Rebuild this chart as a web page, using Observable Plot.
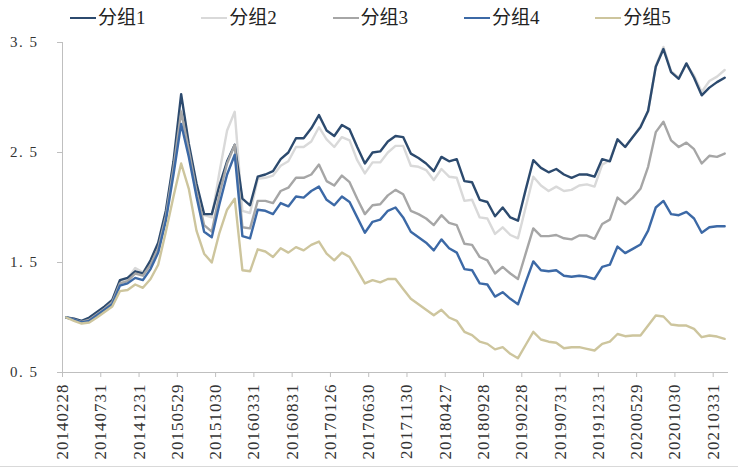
<!DOCTYPE html>
<html><head><meta charset="utf-8">
<script src="https://cdn.jsdelivr.net/npm/d3@7"></script>
<script src="https://cdn.jsdelivr.net/npm/@observablehq/plot@0.6"></script>
<style>
body{margin:0;background:#fff;}
#wrap{position:relative;width:738px;height:466px;border-bottom:1px solid #d9d9d9;overflow:hidden;}
#legend{position:relative;height:34px;}
.item{position:absolute;top:7px;height:22px;line-height:22px;display:flex;align-items:center;font-family:"Liberation Serif","Times New Roman","Noto Sans CJK SC";font-size:19px;color:#222;white-space:nowrap;}
.item .sw{width:26px;height:2.5px;margin-right:2px;}
#chart svg g[aria-label="x-axis tick label"]{font-size:17px;letter-spacing:1px;font-family:"Liberation Serif","Times New Roman",serif;}
#chart svg g[aria-label="y-axis tick label"]{font-size:15px;letter-spacing:1.5px;font-family:"Liberation Serif","Times New Roman",serif;}
</style></head>
<body><div id="wrap"><div id="legend"></div><div id="chart"></div></div>
<script>
const seriesNames = ["分组1","分组2","分组3","分组4","分组5"];
const seriesColors = ["#2c4a6e","#d9d9d9","#a6a6a6","#3c69a6","#cdc59d"];
const tickLabels = ["20140228","20140731","20141231","20150529","20151030","20160331","20160831","20170126","20170630","20171130","20180427","20180928","20190228","20190731","20191231","20200529","20201030","20210331"];
const yTicks = [0.5, 1.5, 2.5, 3.5];

const g1 = [1.00,0.99,0.97,1.00,1.05,1.10,1.16,1.34,1.36,1.42,
  1.40,1.52,1.68,1.97,2.42,3.03,2.58,2.22,1.94,1.94,
  2.20,2.42,2.57,2.08,2.02,2.28,2.30,2.33,2.44,2.50,
  2.63,2.63,2.72,2.84,2.70,2.65,2.75,2.71,2.55,2.40,
  2.50,2.51,2.60,2.65,2.64,2.49,2.45,2.40,2.33,2.46,
  2.42,2.44,2.24,2.23,2.07,2.05,1.92,2.00,1.91,1.88,
  2.16,2.43,2.36,2.32,2.35,2.30,2.27,2.30,2.30,2.28,
  2.44,2.42,2.62,2.55,2.64,2.73,2.88,3.28,3.44,3.23,
  3.17,3.31,3.18,3.02,3.09,3.14,3.18];
const g2 = [1.00,0.99,0.97,0.99,1.04,1.09,1.15,1.33,1.35,1.45,
  1.41,1.51,1.66,1.95,2.40,2.88,2.55,2.18,1.93,1.91,
  2.32,2.70,2.87,1.97,1.95,2.26,2.27,2.29,2.38,2.42,
  2.55,2.55,2.60,2.73,2.62,2.55,2.64,2.61,2.43,2.31,
  2.41,2.41,2.50,2.56,2.56,2.38,2.37,2.34,2.25,2.35,
  2.28,2.27,2.06,2.07,1.91,1.90,1.76,1.82,1.75,1.72,
  2.00,2.28,2.20,2.15,2.19,2.15,2.16,2.20,2.21,2.19,
  2.39,2.43,2.62,2.55,2.64,2.74,2.87,3.29,3.46,3.24,
  3.18,3.30,3.20,3.05,3.15,3.19,3.25];
const g3 = [1.00,0.98,0.96,0.98,1.03,1.08,1.14,1.31,1.33,1.40,
  1.38,1.48,1.63,1.92,2.36,2.87,2.52,2.15,1.84,1.78,
  2.12,2.40,2.57,1.82,1.81,2.06,2.06,2.04,2.15,2.18,
  2.27,2.27,2.30,2.39,2.24,2.20,2.29,2.23,2.08,1.94,
  2.02,2.03,2.11,2.16,2.12,1.97,1.94,1.90,1.84,1.93,
  1.86,1.84,1.67,1.66,1.55,1.52,1.40,1.46,1.40,1.35,
  1.58,1.81,1.74,1.74,1.75,1.72,1.71,1.745,1.745,1.715,
  1.85,1.89,2.09,2.03,2.09,2.17,2.37,2.685,2.78,2.61,
  2.55,2.59,2.53,2.40,2.47,2.46,2.49];
const g4 = [1.00,0.98,0.955,0.97,1.02,1.07,1.12,1.29,1.31,1.36,
  1.34,1.44,1.59,1.88,2.30,2.76,2.46,2.10,1.78,1.73,
  2.03,2.30,2.48,1.74,1.72,1.98,1.97,1.94,2.04,2.01,
  2.10,2.09,2.15,2.19,2.07,2.02,2.10,2.05,1.91,1.77,
  1.87,1.89,1.97,2.00,1.91,1.78,1.73,1.68,1.61,1.71,
  1.63,1.59,1.44,1.43,1.31,1.30,1.19,1.23,1.17,1.12,
  1.32,1.51,1.43,1.42,1.43,1.38,1.37,1.38,1.37,1.35,
  1.46,1.48,1.645,1.585,1.624,1.663,1.79,2.00,2.06,1.94,
  1.93,1.96,1.90,1.77,1.82,1.83,1.83];
const g5 = [1.00,0.97,0.945,0.955,1.00,1.05,1.10,1.24,1.25,1.30,
  1.27,1.35,1.48,1.78,2.10,2.40,2.17,1.79,1.58,1.50,
  1.77,1.98,2.08,1.43,1.42,1.62,1.60,1.55,1.63,1.59,
  1.64,1.61,1.66,1.69,1.58,1.52,1.59,1.55,1.43,1.31,
  1.34,1.32,1.35,1.35,1.26,1.17,1.12,1.07,1.02,1.07,
  1.00,0.97,0.87,0.84,0.78,0.76,0.71,0.73,0.67,0.63,
  0.75,0.87,0.80,0.78,0.77,0.72,0.73,0.73,0.715,0.70,
  0.76,0.78,0.85,0.83,0.836,0.836,0.927,1.018,1.009,0.936,
  0.927,0.927,0.897,0.821,0.836,0.827,0.806];

const allSeries = [g1, g2, g3, g4, g5];
const nPoints = g1.length;

// legend
const legend = document.getElementById("legend");
seriesNames.forEach((name, k) => {
  const it = document.createElement("div");
  it.className = "item";
  it.style.left = (70 + k * 131.3) + "px";
  const sw = document.createElement("span");
  sw.className = "sw";
  sw.style.background = seriesColors[k];
  const tx = document.createElement("span");
  tx.textContent = name;
  it.appendChild(sw); it.appendChild(tx);
  legend.appendChild(it);
});

const tables = allSeries.map((arr, k) => arr.map((v, i) => ({s: seriesNames[k], x: i + 0.5, v})));

// drawing order: 分组2, 分组1, 分组3, 分组4, 分组5
const lineMarks = [1, 0, 2, 3, 4].map(k =>
  Plot.line(tables[k], {x: "x", y: "v", stroke: seriesColors[k], strokeWidth: 2.4, strokeLinejoin: "round"})
);

const xTickVals = tickLabels.map((_, j) => j * 5);

const chart = Plot.plot({
  width: 738,
  height: 432,
  marginLeft: 62,
  marginRight: 10,
  marginTop: 8,
  marginBottom: 94,
  style: {background: "#fff", overflow: "visible"},
  x: {type: "linear", domain: [0, nPoints], axis: null},
  y: {type: "linear", domain: [0.5, 3.5], axis: null},
  marks: [
    Plot.ruleX([0], {y1: 0.5, y2: 3.5, stroke: "#bfbfbf", strokeWidth: 1}),
    Plot.ruleY([0.5], {stroke: "#bfbfbf", strokeWidth: 1}),
    Plot.axisY(yTicks, {
      tickSize: 5, tickPadding: 19, stroke: "#bfbfbf", fill: "#333",
      tickFormat: d => d.toFixed(1).replace(".", ". "), label: null
    }),
    Plot.axisX(xTickVals, {
      tickSize: 5, tickPadding: 6, tickRotate: -90, stroke: "#bfbfbf", fill: "#333",
      tickFormat: d => tickLabels[d / 5], label: null
    }),
    ...lineMarks
  ]
});
document.getElementById("chart").appendChild(chart);
</script>
</body></html>
